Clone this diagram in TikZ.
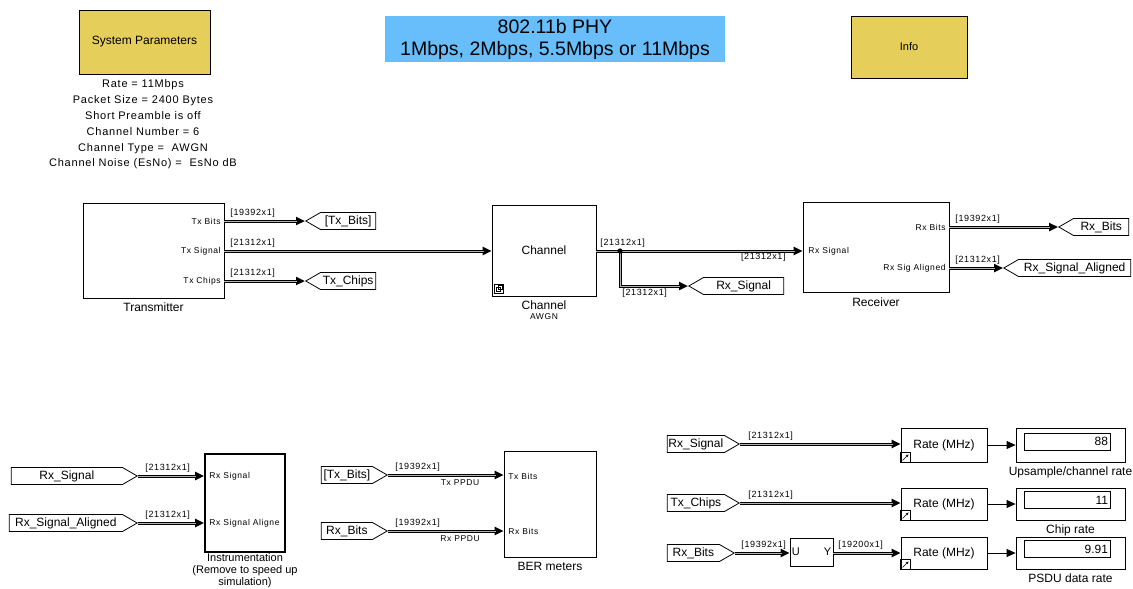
\documentclass[tikz,border=0pt]{standalone}
\usepackage{fontspec}
\setmainfont{Liberation Sans}
\newfontfamily\pixfont[LetterSpace=7]{Liberation Sans}
\usetikzlibrary{arrows.meta,shapes.symbols,calc}
\definecolor{SLYellow}{HTML}{E5CF5A}
\definecolor{SLBlue}{HTML}{68BEFA}

\begin{document}
\begin{tikzpicture}[x=1pt,y=-1pt,line width=0.8pt,
  blk/.style={draw,fill=white,inner sep=0pt,font=\fontsize{12}{14}\selectfont},
  port/.style={inner sep=0pt,font=\pixfont\fontsize{8.5}{10}\selectfont},
  dim/.style={inner sep=0pt,font=\pixfont\fontsize{9}{10}\selectfont},
  lbl/.style={inner sep=0pt,font=\fontsize{12}{14}\selectfont},
  gototag/.style={draw,fill=white,signal,signal to=west,signal pointer angle=60,
    minimum height=17pt,inner sep=1pt,font=\fontsize{12}{14}\selectfont},
  fromtag/.style={draw,fill=white,signal,signal to=east,signal pointer angle=60,
    minimum height=17pt,inner sep=1pt,font=\fontsize{12}{14}\selectfont},
  sig/.style={line width=3pt,-{Triangle[length=9pt,width=8pt]},
    postaction={draw=black!30,line width=0.4pt,-,shorten >=8pt}},
  scal/.style={-{Triangle[length=9pt,width=8pt]}}]
  \useasboundingbox (0,0) rectangle (1133,589);

  % header
  \node[blk,fill=SLYellow,minimum width=131pt,minimum height=64pt] (sysPar) at (144.5,42) {System Parameters};
  \node[align=center,inner sep=0pt,font=\pixfont\fontsize{11}{15.8}\selectfont] (sysParTxt) at (143,124.5)
    {Rate = 11Mbps\\Packet Size = 2400 Bytes\\Short Preamble is off\\Channel Number = 6\\
     Channel Type = \ AWGN\\Channel Noise (EsNo) = \ EsNo dB};
  \node[fill=SLBlue,minimum width=340pt,minimum height=46pt,align=center,inner sep=0pt,
    font=\fontsize{19.5}{22}\selectfont] (title) at (555,39) {802.11b PHY\\1Mbps, 2Mbps, 5.5Mbps or 11Mbps};
  \node[blk,fill=SLYellow,minimum width=116pt,minimum height=62pt,font=\fontsize{11}{13}\selectfont] (info) at (909,47) {Info};

  % transmitter - channel - receiver
  \node[blk,minimum width=141pt,minimum height=95pt] (tx) at (153.5,250.5) {};
  \node[lbl,below=4pt] at (tx.south) {Transmitter};
  \node[port,anchor=east] (txBits) at (221,221) {Tx Bits};
  \node[port,anchor=east] (txSig) at (221,251) {Tx Signal};
  \node[port,anchor=east] (txChips) at (221,281) {Tx Chips};
  \node[gototag,minimum width=70pt,anchor=west] (txBitsTag) at (305,221) {[Tx\_Bits]};
  \node[gototag,minimum width=70pt,anchor=west] (txChipsTag) at (305,281) {Tx\_Chips};
  \draw[sig] (txBits.east -| tx.east) -- (txBitsTag.west);
  \draw[sig] (txChips.east -| tx.east) -- (txChipsTag.west);
  \node[dim,anchor=south west] at (230,218) {[19392x1]};
  \node[dim,anchor=south west] at (230,248) {[21312x1]};
  \node[dim,anchor=south west] at (230,278) {[21312x1]};

  \node[blk,minimum width=104pt,minimum height=91pt] (chan) at (544,250.5) {Channel};
  \draw[line width=0.6pt] ($(chan.south west)+(3,-3)$) rectangle ++(9,-9);
  \draw[line width=0.5pt] ($(chan.south west)+(5,-5)$) rectangle ++(4,-4) ($(chan.south west)+(7,-7)$) rectangle ++(4,-4);
  \node[lbl,below=4pt] (chanLbl) at (chan.south) {Channel};
  \node[port,below=3pt] at (chanLbl.south) {AWGN};
  \draw[sig] (txSig.east -| tx.east) -- (chan.west |- txSig);

  \node[blk,minimum width=146pt,minimum height=90pt] (rx) at (876,247) {};
  \node[lbl,below=5pt] at (rx.south) {Receiver};
  \node[port,anchor=west] (rxSig) at (808,251) {Rx Signal};
  \node[port,anchor=east] (rxBits) at (946,227) {Rx Bits};
  \node[port,anchor=east] (rxAlign) at (946,268) {Rx Sig Aligned};
  \coordinate (branch) at (620,251);
  \node[gototag,minimum width=95pt,anchor=west] (rxSigTag) at (688,286) {Rx\_Signal};
  \draw[sig] (chan.east |- branch) -- (rx.west |- branch);
  \draw[sig] (branch) -- (branch |- rxSigTag) -- (rxSigTag.west);
  \fill (branch) circle (2.6pt);
  \node[dim,anchor=south west] at (600,248) {[21312x1]};
  \node[dim,anchor=north east] at (786,253) {[21312x1]};
  \node[dim,anchor=north west] at (622,289) {[21312x1]};

  \node[gototag,minimum width=70pt,anchor=west] (rxBitsTag) at (1058,227) {Rx\_Bits};
  \node[gototag,minimum width=127pt,anchor=west] (rxAlignTag) at (1003,268) {Rx\_Signal\_Aligned};
  \draw[sig] (rxBits.east -| rx.east) -- (rxBitsTag.west);
  \draw[sig] (rxAlign.east -| rx.east) -- (rxAlignTag.west);
  \node[dim,anchor=south west] at (955,224) {[19392x1]};
  \node[dim,anchor=south west] at (955,265) {[21312x1]};

  % instrumentation
  \node[blk,line width=1.6pt,minimum width=80pt,minimum height=98pt] (instr) at (245,503) {};
  \node[port,anchor=west] (inSig) at (209,476) {Rx Signal};
  \node[port,anchor=west] (inAlign) at (209,523) {Rx Signal Aligne};
  \node[lbl,anchor=north,align=center,font=\fontsize{11}{12}\selectfont] at (245,553.5)
    {Instrumentation\\(Remove to speed up\\simulation)};
  \node[fromtag,minimum width=126pt,anchor=east] (inSigTag) at (138,476) {Rx\_Signal};
  \node[fromtag,minimum width=128pt,anchor=east] (inAlignTag) at (138,523) {Rx\_Signal\_Aligned};
  \draw[sig] (inSigTag.east) -- (instr.west |- inSig);
  \draw[sig] (inAlignTag.east) -- (instr.west |- inAlign);
  \node[dim,anchor=south west] at (145,473) {[21312x1]};
  \node[dim,anchor=south west] at (145,520) {[21312x1]};

  % BER meters
  \node[blk,minimum width=92pt,minimum height=106pt] (ber) at (550,504) {};
  \node[lbl,below=4pt] at (ber.south) {BER meters};
  \node[port,anchor=west] (berTx) at (508,476) {Tx Bits};
  \node[port,anchor=west] (berRx) at (508,531) {Rx Bits};
  \node[fromtag,minimum width=66pt,anchor=east] (berTxTag) at (388,475) {[Tx\_Bits]};
  \node[fromtag,minimum width=66pt,anchor=east] (berRxTag) at (388,531) {Rx\_Bits};
  \draw[sig] (berTxTag.east) -- (ber.west |- berTxTag);
  \draw[sig] (berRxTag.east) -- (ber.west |- berRxTag);
  \node[dim,anchor=south west] at (395,472) {[19392x1]};
  \node[port,anchor=north] at (460,479) {Tx PPDU};
  \node[dim,anchor=south west] at (395,528) {[19392x1]};
  \node[port,anchor=north] at (460,535) {Rx PPDU};

  % rate measurements
  \node[fromtag,minimum width=72pt,anchor=east] (rateSigTag) at (740,444) {Rx\_Signal};
  \node[fromtag,minimum width=72pt,anchor=east] (rateChipsTag) at (740,503) {Tx\_Chips};
  \node[fromtag,minimum width=67pt,anchor=east] (rateBitsTag) at (735,553) {Rx\_Bits};
  \node[blk,minimum width=86pt,minimum height=34pt] (rateA) at (944,445) {Rate (MHz)};
  \node[blk,minimum width=86pt,minimum height=32pt] (rateB) at (944,504) {Rate (MHz)};
  \node[blk,minimum width=86pt,minimum height=32pt] (rateC) at (944,553) {Rate (MHz)};
  \draw[line width=0.6pt] (rateA.south west) rectangle ++(10,-10);
  \draw[line width=0.6pt,-{Stealth[length=3pt]}] ($(rateA.south west)+(2,-2)$) -- ++(6,-6);
  \draw[line width=0.6pt] (rateB.south west) rectangle ++(10,-10);
  \draw[line width=0.6pt,-{Stealth[length=3pt]}] ($(rateB.south west)+(2,-2)$) -- ++(6,-6);
  \draw[line width=0.6pt] (rateC.south west) rectangle ++(10,-10);
  \draw[line width=0.6pt,-{Stealth[length=3pt]}] ($(rateC.south west)+(2,-2)$) -- ++(6,-6);
  \node[blk,minimum width=43pt,minimum height=28pt] (unbuf) at (811.5,552) {};
  \node[inner sep=0pt,font=\fontsize{11}{13}\selectfont,anchor=west] at (unbuf.west) {\,U};
  \node[inner sep=0pt,font=\fontsize{11}{13}\selectfont,anchor=east] at (unbuf.east) {Y\,};
  \draw[sig] (rateSigTag.east) -- (rateA.west |- rateSigTag);
  \draw[sig] (rateChipsTag.east) -- (rateB.west |- rateChipsTag);
  \draw[sig] (rateBitsTag.east) -- (unbuf.west |- rateBitsTag);
  \draw[sig] (unbuf.east |- rateBitsTag) -- (rateC.west |- rateBitsTag);
  \node[dim,anchor=south west] at (748,441) {[21312x1]};
  \node[dim,anchor=south west] at (748,500) {[21312x1]};
  \node[dim,anchor=south west] at (741,550) {[19392x1]};
  \node[dim,anchor=south west] at (838,550) {[19200x1]};

  \node[blk,minimum width=109pt,minimum height=34pt] (dispA) at (1070.5,445) {};
  \node[blk,minimum width=109pt,minimum height=32pt] (dispB) at (1070.5,504) {};
  \node[blk,minimum width=109pt,minimum height=32pt] (dispC) at (1070.5,553) {};
  \node[blk,text width=86pt,align=right,minimum height=17pt] (dispAVal) at (1067,441.5) {88\,};
  \node[blk,text width=86pt,align=right,minimum height=17pt] (dispBVal) at (1067,500) {11\,};
  \node[blk,text width=86pt,align=right,minimum height=17pt] (dispCVal) at (1067,549) {9.91\,};
  \draw[scal] (rateA) -- (dispA);
  \draw[scal] (rateB) -- (dispB);
  \draw[scal] (rateC) -- (dispC);
  \node[lbl,below=4pt] at (dispA.south) {Upsample/channel rate};
  \node[lbl,below=4pt] at (dispB.south) {Chip rate};
  \node[lbl,below=4pt] at (dispC.south) {PSDU data rate};
\end{tikzpicture}
\end{document}
